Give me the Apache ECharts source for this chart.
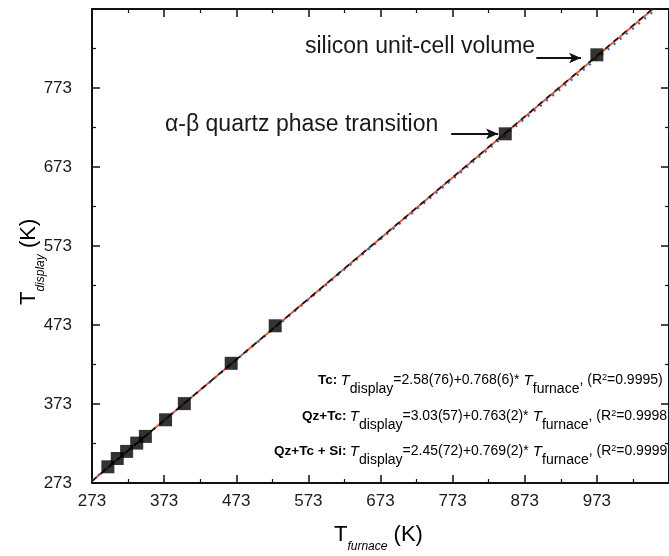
<!DOCTYPE html>
<html><head><meta charset="utf-8">
<script src="https://cdn.jsdelivr.net/npm/echarts@6/dist/echarts.min.js"></script>
<style>html,body{margin:0;padding:0;background:#fff}#c{width:669px;height:556px}</style>
</head><body><div id="c"></div>
<script>
// ---- data ----
const furnaceK = [295, 308, 321, 335, 347, 375, 401, 466, 527, 846, 973];
const displayK = [293.5, 304, 313, 323.5, 332, 353, 373.5, 424.5, 472, 715, 815];
// fit lines (endpoints in K), from the printed coefficients
const fitX = [273, 1050];
const fitTc = [275.58, 872.3];
const fitQzTc = [276.03, 868.9];
const fitAll = [275.45, 873.0];
const xTicks = [273, 373, 473, 573, 673, 773, 873, 973, 1073];
const yTicks = [273, 373, 473, 573, 673, 773, 873];
const arrowSi = [[889, 811], [951, 811]];
const arrowQz = [[771, 715], [836, 715]];

const FONT = '"Liberation Sans", Arial, sans-serif';
const RED = '#e55a3c', BLUE = '#2f68b3', BLACK = '#111';

const chart = echarts.init(document.getElementById('c'));
function pairs(xs, ys){ return xs.map((x,i)=>[x, ys[i]]); }

const axBase = {
  type: 'value', interval: 100,
  axisLine: {show: true, onZero: false, lineStyle: {color: '#111', width: 2}},
  axisTick: {show: true, inside: true, length: 8, lineStyle: {color: '#111', width: 1.5}},
  minorTick: {show: true, splitNumber: 2, length: 4, lineStyle: {color: '#111', width: 1.2}},
  splitLine: {show: false}, minorSplitLine: {show: false}
};
const labelStyle = {color: '#1a1a1a', fontFamily: FONT, fontSize: 17};

function rich(color) {
  return {
    b: {fontFamily: FONT, fontSize: 13.5, fontWeight: 'bold', color, lineHeight: 16, verticalAlign: 'top'},
    t: {fontFamily: FONT, fontSize: 15, fontStyle: 'italic', color, lineHeight: 16, verticalAlign: 'top'},
    n: {fontFamily: FONT, fontSize: 14, color, lineHeight: 16, verticalAlign: 'top'},
    s: {fontFamily: FONT, fontSize: 14, color, lineHeight: 14, padding: [9,0,0,0], verticalAlign: 'top'},
    p: {fontFamily: FONT, fontSize: 9, color, lineHeight: 10, verticalAlign: 'top'}
  };
}

chart.setOption({
  animation: false,
  backgroundColor: '#fff',
  grid: {left: 92, top: 9, width: 584, height: 474},
  xAxis: [
    Object.assign({}, axBase, {min: 273, max: 1073, position: 'bottom',
      axisLabel: Object.assign({}, labelStyle, {margin: 10, showMaxLabel: false})}),
    Object.assign({}, axBase, {min: 273, max: 1073, position: 'top', axisLabel: {show: false}})
  ],
  yAxis: [
    Object.assign({}, axBase, {min: 273, max: 873, position: 'left',
      axisLabel: Object.assign({}, labelStyle, {margin: 20, showMaxLabel: false})}),
    Object.assign({}, axBase, {min: 273, max: 873, position: 'right', axisLabel: {show: false}})
  ],
  series: [
    {type: 'line', data: pairs(fitX, fitTc), showSymbol: false, symbol: 'none',
     lineStyle: {color: RED, width: 2}, z: 2},
    {type: 'line', data: pairs(fitX, fitQzTc), showSymbol: false, symbol: 'none',
     lineStyle: {color: BLUE, width: 2.2, type: [2, 6]}, z: 3},
    {type: 'line', data: pairs(fitX, fitAll), showSymbol: false, symbol: 'none',
     lineStyle: {color: BLACK, width: 1.5, type: [6, 5]}, z: 4,
     markLine: {silent: true, symbol: ['none', 'arrow'], symbolSize: [8, 12], label: {show: false},
       lineStyle: {color: '#111', width: 1.8, type: 'solid'},
       data: [[{coord: arrowSi[0]}, {coord: arrowSi[1]}], [{coord: arrowQz[0]}, {coord: arrowQz[1]}]]}},
    {type: 'scatter', data: pairs(furnaceK, displayK), symbol: 'rect', symbolSize: 13,
     itemStyle: {color: '#000'}, z: 5}
  ],
  graphic: [
    {type: 'text', left: 305, top: 35, style: {text: 'silicon unit-cell volume', font: '23px ' + FONT, fill: '#1a1a1a'}},
    {type: 'text', left: 165, top: 113, style: {text: 'α-β quartz phase transition', font: '23px ' + FONT, fill: '#1a1a1a'}},
    {type: 'text', left: 318, top: 373, style: {
      text: '{b|Tc:} {t|T}{s|display}{n|=2.58(76)+0.768(6)*}{t| T}{s|furnace}{n|, (R}{p|2}{n|=0.9995)}',
      rich: rich(RED)}},
    {type: 'text', left: 302, top: 409, style: {
      text: '{b|Qz+Tc:} {t|T}{s|display}{n|=3.03(57)+0.763(2)*}{t| T}{s|furnace}{n|, (R}{p|2}{n|=0.99989)}',
      rich: rich(BLUE)}},
    {type: 'text', left: 274, top: 444, style: {
      text: '{b|Qz+Tc + Si:} {t|T}{s|display}{n|=2.45(72)+0.769(2)*}{t| T}{s|furnace}{n|, (R}{p|2}{n|=0.9999)}',
      rich: rich(BLACK)}},
    {type: 'text', left: 334, top: 524, style: {
      text: '{a|T}{s|furnace}{a| (K)}',
      rich: {
        a: {fontFamily: FONT, fontSize: 22, color: '#1a1a1a', lineHeight: 24, verticalAlign: 'top'},
        s: {fontFamily: FONT, fontSize: 12, fontStyle: 'italic', color: '#1a1a1a', lineHeight: 14, padding: [17,0,0,0], verticalAlign: 'top'}
      }}},
    {type: 'text', x: 18, y: 305, rotation: Math.PI / 2, style: {
      text: '{a|T}{s|display}{a| (K)}',
      rich: {
        a: {fontFamily: FONT, fontSize: 22, color: '#1a1a1a', lineHeight: 24, verticalAlign: 'top'},
        s: {fontFamily: FONT, fontSize: 12, fontStyle: 'italic', color: '#1a1a1a', lineHeight: 14, padding: [17,0,0,0], verticalAlign: 'top'}
      }}}
  ]
});
</script></body></html>
